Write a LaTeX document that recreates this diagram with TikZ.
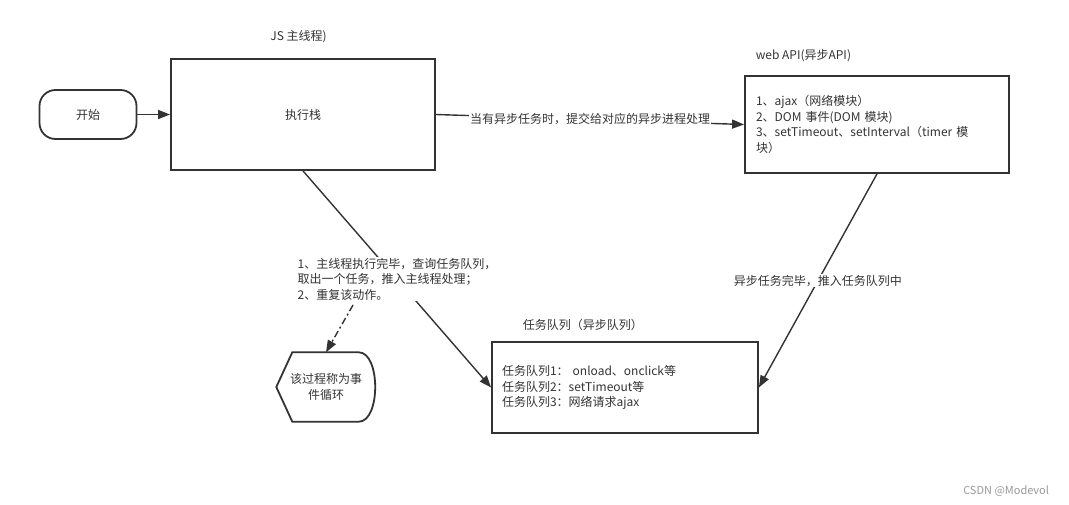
\documentclass[tikz,border=0pt]{standalone}
\usepackage{fontspec}
\setmainfont{Noto Sans CJK SC}
\usetikzlibrary{positioning,arrows.meta}
\definecolor{ink}{HTML}{333333}
\definecolor{wmark}{HTML}{999999}
\begin{document}
\begin{tikzpicture}[x=1pt, y=-1pt, color=ink, line width=1.4pt,
  >={Triangle[length=12pt,width=9pt]},
  font=\fontsize{12}{15.5}\selectfont,
  box/.style = {draw, line width=1.8pt},
  tag/.style = {fill=white, inner sep=1pt},
  titletxt/.style = {inner sep=0pt}]

    \useasboundingbox (0,0) rectangle (1069,504);

    \node[box, rounded corners=16pt, minimum width=97pt, minimum height=49pt] (start) at (88,114.5) {开始};
    \node[box, minimum width=264pt, minimum height=111pt] (exec) at (303,114.5) {执行栈};
    \node[box, minimum height=97pt, text width=242pt, inner xsep=11pt, align=left] (api) at (877,124.5)
        {1、ajax（网络模块）\\2、DOM 事件(DOM 模块)\\3、setTimeout、setInterval（timer 模\\块）};
    \node[box, minimum height=91pt, text width=246pt, inner xsep=10pt, align=left] (task) at (625,387.5)
        {任务队列1： onload、onclick等\\任务队列2：setTimeout等\\任务队列3：网络请求ajax};
    \node[minimum width=98pt, minimum height=68pt, inner sep=0pt, align=center] (loop) at (326,387)
        {该过程称为事\\件循环};

    % titles
    \node[titletxt, above=15pt of exec.north, xshift=-4.5pt] (jstitle) {JS 主线程)};
    \node[titletxt, above right=13pt and 11pt of api.north west] (apititle) {web API(异步API)};
    \node[titletxt, above right=10pt and 31pt of task.north west] (tasktitle) {任务队列（异步队列）};

    % loop shape
    \draw[line width=1.8pt] (loop.west) -- ([xshift=16pt]loop.north west) -- ([xshift=-17pt]loop.north east)
        .. controls ([xshift=5pt]loop.north east) and ([xshift=5pt]loop.south east) .. ([xshift=-17pt]loop.south east)
        -- ([xshift=16pt]loop.south west) -- cycle;

    \draw[->] (start.east) -- (exec.west);
    \draw[->] (exec.east) -- node[tag] {当有异步任务时，提交给对应的异步进程处理} (api.west);
    \draw[->] (api.south) -- node[tag] {异步任务完毕，推入任务队列中} (task.east);
    \draw[->] (exec.south) -- node[tag, align=left] (evlbl)
        {1、主线程执行完毕，查询任务队列，\\取出一个任务，推入主线程处理；\\2、重复该动作。} (task.west);
    \draw[->, dash pattern=on 7pt off 3pt on 2pt off 3pt] ([xshift=57pt, yshift=-3pt]evlbl.south west) -- (loop.north);

    \node[text=wmark, font=\fontsize{11}{13}\selectfont, anchor=east] (csdn) at (1053,491) {CSDN @Modevol};

\end{tikzpicture}
\end{document}
